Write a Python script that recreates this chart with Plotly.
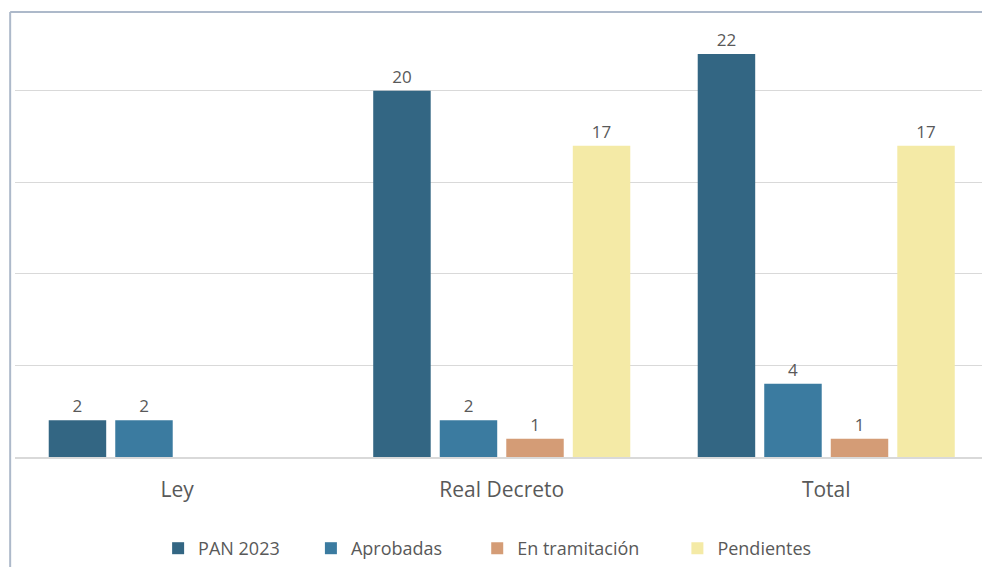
import plotly.graph_objects as go

categories = ["Ley", "Real Decreto", "Total"]
series_names = ["PAN 2023", "Aprobadas", "En tramitación", "Pendientes"]
pan_2023 = [2, 20, 22]
aprobadas = [2, 2, 4]
en_tramitacion = [None, 1, 1]
pendientes = [None, 17, 17]

colors = ["#336683", "#3B7BA0", "#D49C76", "#F4EAA6"]
series_values = [pan_2023, aprobadas, en_tramitacion, pendientes]
legend_ids = ["legend", "legend2", "legend3", "legend4"]
legend_x = [0.148, 0.306, 0.478, 0.685]

FONT = "Open Sans"
GRAY = "#595959"

fig = go.Figure()
for name, vals, col, lid in zip(series_names, series_values, colors, legend_ids):
    fig.add_trace(go.Bar(
        name=name, x=categories, y=vals, marker_color=col,
        marker_line_width=0,
        text=[("" if v is None else str(v)) for v in vals],
        textposition="outside", cliponaxis=False,
        textfont=dict(family=FONT, size=17, color=GRAY),
        legend=lid,
    ))

layout_legends = {}
for lid, lx in zip(legend_ids, legend_x):
    layout_legends[lid] = dict(
        x=lx, y=0.0, xref="paper", yref="container", xanchor="left", yanchor="bottom",
        orientation="h", font=dict(family=FONT, size=18, color=GRAY),
        bgcolor="rgba(0,0,0,0)", itemwidth=30,
    )

fig.update_layout(
    width=982, height=567,
    margin=dict(l=15, r=0, t=12, b=110),
    paper_bgcolor="white", plot_bgcolor="white",
    barmode="group", bargap=0.18, bargroupgap=0.136,
    showlegend=True,
    font=dict(family=FONT, color=GRAY),
    xaxis=dict(
        range=[-0.5, 2.48],
        showline=True, linecolor="#D9D9D9", linewidth=2,
        tickfont=dict(family=FONT, size=21, color=GRAY),
        ticks="", ticklabelstandoff=13,
    ),
    yaxis=dict(
        range=[0, 24.3], dtick=5, showticklabels=False,
        showgrid=True, gridcolor="#D9D9D9", gridwidth=1, zeroline=False,
    ),
    **layout_legends,
)

# chart frame (left, top borders)
fig.add_shape(type="line", xref="paper", yref="paper", x0=-0.005, x1=-0.005, y0=1.0, y1=-0.3,
              line=dict(color="#ADB9CA", width=2))
fig.add_shape(type="line", xref="paper", yref="paper", x0=-0.005, x1=1.0, y0=1.0, y1=1.0,
              line=dict(color="#ADB9CA", width=2))

fig.write_html("out.html", config={"displayModeBar": False},
               post_script="document.body.style.margin='0px';")
